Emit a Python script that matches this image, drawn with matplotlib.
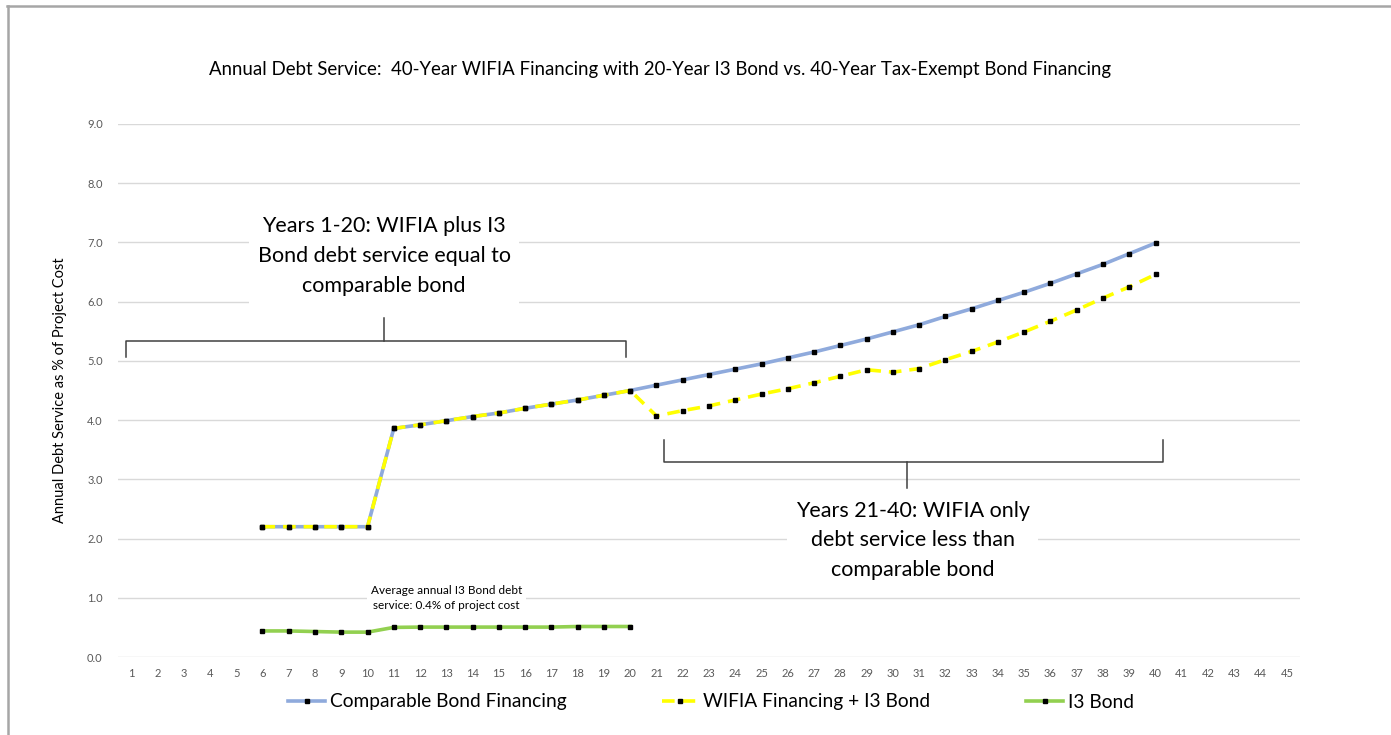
import numpy as np
import matplotlib.pyplot as plt
from matplotlib.lines import Line2D

plt.rcParams['font.family'] = ['Lato', 'DejaVu Sans']

years = np.arange(1, 46)

# values, % of project cost, years 6-40 / 6-20
bond_years = np.arange(6, 41)
comparable_bond = [2.2, 2.2, 2.2, 2.2, 2.2,
                   3.86, 3.92, 3.99, 4.06, 4.12, 4.20, 4.27, 4.34, 4.42, 4.50,
                   4.59, 4.68, 4.77, 4.86, 4.95, 5.05, 5.15, 5.26, 5.37, 5.49,
                   5.61, 5.75, 5.88, 6.02, 6.16, 6.31, 6.47, 6.63, 6.81, 6.99]
wifia_plus_i3 = [2.2, 2.2, 2.2, 2.2, 2.2,
                 3.86, 3.92, 3.99, 4.06, 4.12, 4.20, 4.27, 4.34, 4.42, 4.50,
                 4.07, 4.16, 4.24, 4.34, 4.44, 4.53, 4.63, 4.74, 4.85, 4.81,
                 4.87, 5.02, 5.16, 5.32, 5.49, 5.67, 5.86, 6.06, 6.25, 6.46]
i3_years = np.arange(6, 21)
i3_bond = [0.44, 0.44, 0.43, 0.42, 0.42,
           0.50, 0.505, 0.505, 0.505, 0.505, 0.505, 0.505, 0.515, 0.515, 0.515]

title = "Annual Debt Service:  40-Year WIFIA Financing with 20-Year I3 Bond vs. 40-Year Tax-Exempt Bond Financing"
note_1_20 = "Years 1-20: WIFIA plus I3\nBond debt service equal to\ncomparable bond"
note_21_40 = "Years 21-40: WIFIA only\ndebt service less than\ncomparable bond"
note_avg = "Average annual I3 Bond debt\nservice: 0.4% of project cost"

blue = '#8FAADC'
yellow = '#FFFF00'
green = '#92D050'
gray_txt = '#595959'

fig = plt.figure(figsize=(13.91, 7.35), dpi=100)
ax = fig.add_axes([118 / 1391, 1 - 657 / 735, 1182 / 1391, 533 / 735])

ax.plot(bond_years, comparable_bond, color=blue, lw=2.6, marker='s', ms=3.0,
        mfc='black', mec='black', zorder=3, label='Comparable Bond Financing')
ax.plot(bond_years, wifia_plus_i3, color=yellow, lw=2.6, ls=(0, (3.5, 2.2)),
        marker='s', ms=3.0, mfc='black', mec='black', zorder=4,
        label='WIFIA Financing + I3 Bond')
ax.plot(i3_years, i3_bond, color=green, lw=2.6, marker='s', ms=3.0,
        mfc='black', mec='black', zorder=3, label='I3 Bond')

ax.set_xlim(0.5, 45.5)
ax.set_ylim(0, 9)
ax.set_xticks(years)
ax.set_xticklabels([str(y) for y in years])
ax.set_yticks(np.arange(0, 10, 1.0))
ax.set_yticklabels([f"{v:.1f}" for v in np.arange(0, 10, 1.0)])
ax.tick_params(axis='both', length=0, colors=gray_txt, labelsize=8)
ax.tick_params(axis='y', pad=11)
ax.tick_params(axis='x', pad=8)
ax.grid(axis='y', color='#D9D9D9', lw=1)
ax.set_axisbelow(True)
for s in ax.spines.values():
    s.set_visible(False)
ax.set_ylabel("Annual Debt Service as % of Project Cost", fontsize=10.5, color='black')
ax.yaxis.set_label_coords((67 - 118) / 1182, 0.5)

# brackets
ax.plot([0.8, 0.8, 19.84, 19.84], [5.07, 5.34, 5.34, 5.07], color='#404040', lw=1.1, zorder=2)
ax.plot([10.63, 10.63], [5.34, 5.72], color='#404040', lw=1.1, zorder=2)
ax.plot([21.28, 21.28, 40.28, 40.28], [3.66, 3.29, 3.29, 3.66], color='#404040', lw=1.1, zorder=2)
ax.plot([30.53, 30.53], [3.29, 2.85], color='#404040', lw=1.1, zorder=2)

box = dict(facecolor='white', edgecolor='none', pad=6)
ax.text(10.63, 6.77, note_1_20, ha='center', va='center', fontsize=15.5,
        linespacing=1.6, bbox=box, zorder=2)
ax.text(30.75, 1.97, note_21_40, ha='center', va='center', fontsize=15.5,
        linespacing=1.6, bbox=box, zorder=2)
ax.text(13.0, 1.0, note_avg, ha='center', va='center', fontsize=8.5,
        linespacing=1.45, bbox=dict(facecolor='white', edgecolor='none', pad=3), zorder=2)

fig.text(660 / 1391, 1 - 69 / 735, title, ha='center', va='center', fontsize=13.4)

handles, labels = ax.get_legend_handles_labels()
fig.legend(handles, labels, loc='center', bbox_to_anchor=(711 / 1391, 1 - 702 / 735),
           ncol=3, frameon=False, fontsize=13.8, handlelength=1.9, handletextpad=0.25,
           columnspacing=5.0)

# frame edges visible in the reference (top and left)
fig.add_artist(Line2D([7 / 1391, 1], [1 - 6 / 735, 1 - 6 / 735], color='#A6A6A6', lw=1.8))
fig.add_artist(Line2D([7.5 / 1391, 7.5 / 1391], [0, 1 - 6 / 735], color='#A6A6A6', lw=1.8))

fig.savefig('out.png', dpi=100)
